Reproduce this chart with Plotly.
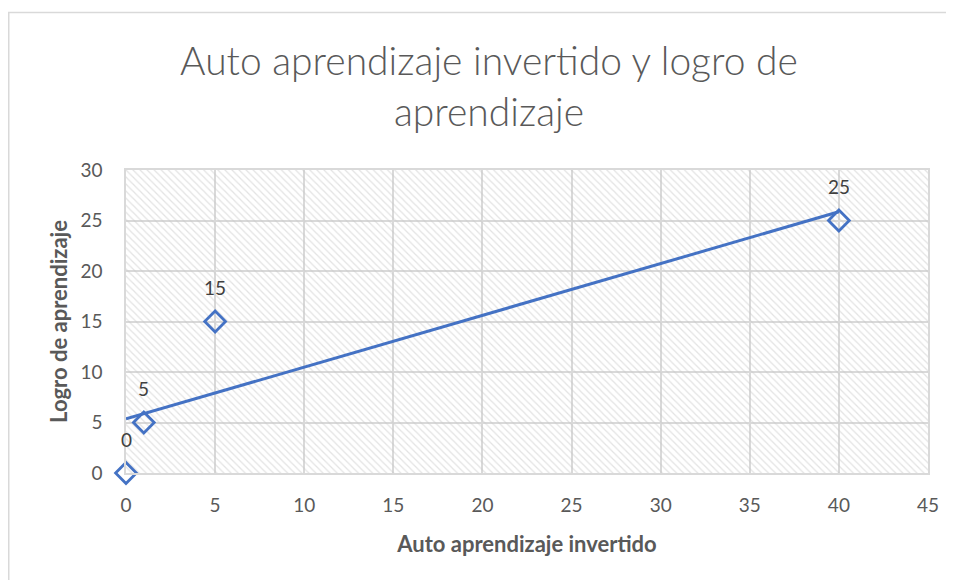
import numpy as np
import plotly.graph_objects as go

# Data
x_vals = [0, 1, 5, 40]
y_vals = [0, 5, 15, 25]
x_range = [0, 45]
y_range = [0, 30]
x_ticks = [0, 5, 10, 15, 20, 25, 30, 35, 40, 45]
y_ticks = [0, 5, 10, 15, 20, 25, 30]
title_text = "Auto aprendizaje invertido y logro de<br>aprendizaje"
x_title = "Auto aprendizaje invertido"
y_title = "Logro de aprendizaje"

blue = "#4472C4"
grid = "#d9d9d9"
txt = "#595959"
FONT = "Lato"

W, H = 954, 580
ml, mr, mt, mb = 118, 34, 162, 115
pw, ph = W - ml - mr, H - mt - mb

# linear trend line (least squares)
slope, intercept = np.polyfit(x_vals, y_vals, 1)
tx = np.array([min(x_vals), max(x_vals)])
ty = slope * tx + intercept

fig = go.Figure()

# hatched plot-area background
fig.add_trace(go.Scatter(
    x=[x_range[0], x_range[1], x_range[1], x_range[0], x_range[0]],
    y=[y_range[0], y_range[0], y_range[1], y_range[1], y_range[0]],
    mode="none", fill="toself", fillcolor="rgba(0,0,0,0)",
    fillpattern=dict(shape="\\", fgcolor="#c8c8c8", bgcolor="rgba(0,0,0,0)",
                     size=5, solidity=0.25),
    hoverinfo="skip", showlegend=False,
))

fig.add_trace(go.Scatter(
    x=tx, y=ty, mode="lines",
    line=dict(color=blue, width=3), showlegend=False, hoverinfo="skip",
))

fig.add_trace(go.Scatter(
    x=x_vals, y=y_vals, mode="markers",
    marker=dict(symbol="diamond-open", size=16, color=blue,
                line=dict(color=blue, width=2.8)),
    showlegend=False, cliponaxis=False,
))

for xv, yv in zip(x_vals, y_vals):
    fig.add_annotation(x=xv, y=yv, text=str(yv), showarrow=False,
                       yshift=34, font=dict(family=FONT, size=19, color="#404040"))

# outer chart border
fig.add_shape(type="rect", xref="paper", yref="paper",
              x0=(0.75 - ml) / pw, x1=(W + 5 - ml) / pw,
              y0=(mt + ph - (H + 5)) / ph, y1=(mt + ph - 4.5) / ph,
              line=dict(color=grid, width=1.5), fillcolor="rgba(0,0,0,0)",
              layer="below")

fig.update_layout(
    width=W, height=H,
    margin=dict(l=ml, r=mr, t=mt, b=mb),
    paper_bgcolor="white", plot_bgcolor="white",
    title=dict(text=title_text, x=481 / W, xanchor="center",
               y=1 - 67 / H, yanchor="top", yref="container",
               font=dict(family=FONT, size=39, color=txt, weight=300)),
    xaxis=dict(range=x_range, tickvals=x_ticks, showgrid=True, gridcolor=grid,
               gridwidth=1.5, zeroline=False, showline=True, linecolor=grid,
               linewidth=1.5, mirror=True, ticks="outside", ticklen=14,
               tickcolor="rgba(0,0,0,0)",
               tickfont=dict(family=FONT, size=19, color=txt),
               title=dict(text=x_title, standoff=22,
                          font=dict(family=FONT, size=22, color=txt, weight="bold"))),
    yaxis=dict(range=y_range, tickvals=y_ticks, showgrid=True, gridcolor=grid,
               gridwidth=1.5, zeroline=False, showline=True, linecolor=grid,
               linewidth=1.5, mirror=True, ticks="outside", ticklen=18,
               tickcolor="rgba(0,0,0,0)",
               tickfont=dict(family=FONT, size=19, color=txt),
               title=dict(text=y_title, standoff=7,
                          font=dict(family=FONT, size=22, color=txt, weight="bold"))),
)

fig.write_html("out.html")
